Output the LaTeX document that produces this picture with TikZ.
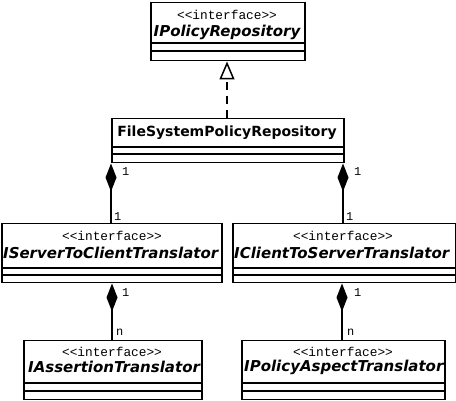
\documentclass[tikz,border=0pt]{standalone}
\usepackage{fontspec}
\setmainfont{DejaVu Sans}
\newfontfamily\monof{Liberation Mono}
\usetikzlibrary{arrows.meta}
\begin{document}
\begin{tikzpicture}[x=1pt,y=1pt,
 umlbox/.style={draw, line width=1.5pt, fill=white, inner sep=0pt, anchor=north west},
 stereo/.style={font=\monof\fontsize{12.8}{12.8}\selectfont, inner sep=0pt},
 cname/.style={font=\bfseries\itshape\fontsize{15}{15}\selectfont, inner sep=0pt, anchor=west},
 mult/.style={font=\monof\fontsize{12}{12}\selectfont, inner sep=0pt, anchor=west},
 comp/.style={line width=1.5pt, {Diamond[length=28pt,width=11pt]}-},
 realz/.style={line width=1.5pt, dash pattern=on 8pt off 6pt, -{Triangle[open,length=18pt,width=15pt]}}
]
\useasboundingbox (0,0) rectangle (456,-401);
% boxes
\node[umlbox, minimum width=154pt, minimum height=58pt] (ipr) at (150,-2) {};
\node[umlbox, minimum width=232pt, minimum height=44pt] (fs) at (111,-118) {};
\node[umlbox, minimum width=220pt, minimum height=59pt] (s2c) at (1,-223) {};
\node[umlbox, minimum width=223pt, minimum height=59pt] (c2s) at (232,-223) {};
\node[umlbox, minimum width=178pt, minimum height=59pt] (ast) at (23,-340) {};
\node[umlbox, minimum width=203pt, minimum height=59pt] (pat) at (241,-340) {};
% compartments
\foreach \b/\ya/\yb in {ipr/-43/-51, fs/-147/-154, s2c/-268/-275, c2s/-268/-275, ast/-383/-391, pat/-383/-391}{
  \draw[line width=1.5pt] (\b.west |- 0,\ya) -- (\b.east |- 0,\ya);
  \draw[line width=1.5pt] (\b.west |- 0,\yb) -- (\b.east |- 0,\yb);
}
% texts
\node[stereo] (st1) at (227,-15) {<<interface>>};
\node[cname, anchor=center] (n1) at (227,-32) {IPolicyRepository};
\node[font=\bfseries\fontsize{14}{14}\selectfont, inner sep=0pt] (n2) at (227,-133) {FileSystemPolicyRepository};
\node[stereo] (st3) at (112,-236) {<<interface>>};
\begin{scope}\clip (s2c.north west) rectangle (s2c.south east);
\node[cname] (n3) at (3,-253) {IServerToClientTranslator};\end{scope}
\node[stereo] (st4) at (343,-236) {<<interface>>};
\begin{scope}\clip (c2s.north west) rectangle (c2s.south east);
\node[cname] (n4) at (234,-253) {IClientToServerTranslator};\end{scope}
\node[stereo] (st5) at (112,-352) {<<interface>>};
\begin{scope}\clip (ast.north west) rectangle (ast.south east);
\node[cname] (n5) at (28,-367) {IAssertionTranslator};\end{scope}
\node[stereo] (st6) at (343,-352) {<<interface>>};
\begin{scope}\clip (pat.north west) rectangle (pat.south east);
\node[cname] (n6) at (244,-367) {IPolicyAspectTranslator};\end{scope}
% connectors
\draw[realz] (fs.north -| 227,0) -- (ipr.south -| 227,0);
\draw[comp] (fs.south -| 111,0) -- (s2c.north -| 111,0);
\draw[comp] (fs.south -| 343,0) -- (c2s.north -| 343,0);
\draw[comp] (s2c.south -| 112,0) -- (ast.north -| 112,0);
\draw[comp] (c2s.south -| 342,0) -- (pat.north -| 342,0);
% multiplicities
\node[mult] (m1) at (122,-172) {1};
\node[mult] (m2) at (114,-217) {1};
\node[mult] (m3) at (354,-172) {1};
\node[mult] (m4) at (346,-217) {1};
\node[mult] (m5) at (122,-293) {1};
\node[mult] (m6) at (116,-332) {n};
\node[mult] (m7) at (354,-293) {1};
\node[mult] (m8) at (347,-332) {n};
\end{tikzpicture}
\end{document}
